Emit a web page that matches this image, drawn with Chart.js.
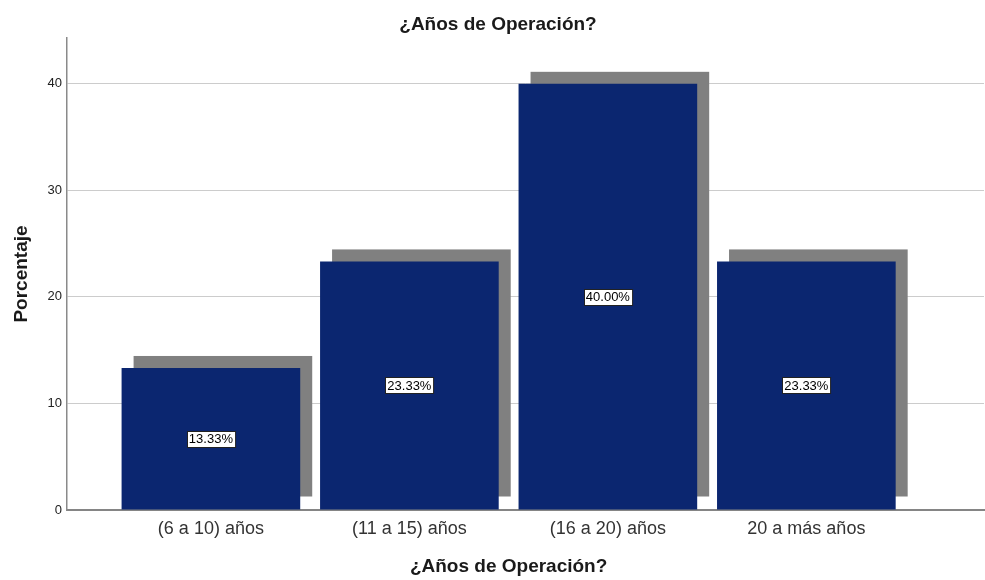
<!DOCTYPE html>
<html>
<head>
<meta charset="utf-8">
<script src="https://cdn.jsdelivr.net/npm/chart.js@4.4.1/dist/chart.umd.min.js"></script>
<style>
  html, body { margin: 0; padding: 0; background: #fff; }
  #wrap { width: 985px; height: 580px; }
</style>
</head>
<body>
<div id="wrap"><canvas id="myChart"></canvas></div>
<script>
var titulo = '¿Años de Operación?';
var categorias = ['(6 a 10) años', '(11 a 15) años', '(16 a 20) años', '20 a más años'];
var porcentajes = [13.33, 23.33, 40.00, 23.33];
var ticksY = [0, 10, 20, 30, 40];
var ejeYMax = 44.3;
var ejeXMin = -0.725;
var ejeXMax = 3.895;

var fuente = '"Liberation Sans", Arial, Helvetica, sans-serif';

// grey drop shadow behind each bar, offset up and to the right
var sombraBarras = {
  id: 'sombraBarras',
  beforeDatasetsDraw: function (chart) {
    var ctx = chart.ctx;
    var meta = chart.getDatasetMeta(0);
    ctx.save();
    ctx.fillStyle = '#808080';
    meta.data.forEach(function (bar) {
      var p = bar.getProps(['x', 'y', 'base', 'width'], true);
      ctx.fillRect(p.x - p.width / 2 + 12, p.y - 12, p.width, p.base - p.y - 1);
    });
    ctx.restore();
  }
};

// boxed percentage labels in the middle of each bar
var etiquetas = {
  id: 'etiquetas',
  afterDatasetsDraw: function (chart) {
    var ctx = chart.ctx;
    var meta = chart.getDatasetMeta(0);
    ctx.save();
    ctx.font = '13px ' + fuente;
    ctx.textAlign = 'center';
    ctx.textBaseline = 'middle';
    meta.data.forEach(function (bar, i) {
      var p = bar.getProps(['x', 'y', 'base'], true);
      var txt = porcentajes[i].toFixed(2) + '%';
      var w = ctx.measureText(txt).width + 4;
      var h = 16;
      var cy = (p.y + p.base) / 2;
      var bx = Math.round(p.x - w / 2) + 0.5;
      var by = Math.round(cy - h / 2) + 0.5;
      ctx.fillStyle = '#ffffff';
      ctx.fillRect(bx, by, w, h);
      ctx.strokeStyle = '#222';
      ctx.lineWidth = 1;
      ctx.strokeRect(bx, by, w, h);
      ctx.fillStyle = '#000';
      ctx.fillText(txt, p.x, cy + 1);
    });
    ctx.restore();
  }
};

// x axis title, centred under the bars
var tituloX = {
  id: 'tituloX',
  afterDraw: function (chart) {
    var ctx = chart.ctx;
    var sx = chart.scales.x;
    var cx = sx.getPixelForValue((categorias.length - 1) / 2);
    ctx.save();
    ctx.font = 'bold 19px ' + fuente;
    ctx.fillStyle = '#1a1a1a';
    ctx.textAlign = 'center';
    ctx.textBaseline = 'middle';
    ctx.fillText(titulo, cx, 567);
    ctx.restore();
  }
};

var ctx = document.getElementById('myChart').getContext('2d');
var config = {
  type: 'bar',
  data: {
    datasets: [{
      data: porcentajes.map(function (v, i) { return { x: i, y: v }; }),
      backgroundColor: '#0b2670',
      borderWidth: 0,
      barPercentage: 0.9,
      categoryPercentage: 1.0
    }]
  },
  options: {
    responsive: true,
    maintainAspectRatio: false,
    animation: false,
    layout: { padding: { left: 12, right: 1, top: 0, bottom: 0 } },
    plugins: {
      legend: { display: false },
      tooltip: { enabled: false },
      title: {
        display: true,
        text: titulo,
        color: '#1a1a1a',
        font: { family: fuente, size: 19, weight: 'bold', lineHeight: 1.2 },
        padding: { top: 13, bottom: 2.2 }
      }
    },
    scales: {
      x: {
        type: 'linear',
        offset: false,
        min: ejeXMin,
        max: ejeXMax,
        afterBuildTicks: function (scale) {
          scale.ticks = categorias.map(function (c, i) { return { value: i }; });
        },
        afterFit: function (scale) { scale.height = 70; },
        grid: { display: false, drawTicks: false, offset: false },
        border: { display: true, color: '#858585', width: 2 },
        ticks: {
          autoSkip: false,
          maxRotation: 0,
          padding: 8,
          color: '#333',
          font: { family: fuente, size: 18 },
          callback: function (v) { return categorias[v]; }
        }
      },
      y: {
        min: 0,
        max: ejeYMax,
        afterBuildTicks: function (scale) {
          scale.ticks = ticksY.map(function (v) { return { value: v }; });
        },
        afterFit: function (scale) { scale.width = 55; },
        grid: {
          color: function (c) { return c.tick && c.tick.value === 0 ? 'rgba(0,0,0,0)' : '#cccccc'; },
          lineWidth: 1,
          drawTicks: false
        },
        border: { display: true, color: '#8a8a8a', width: 1.5 },
        ticks: {
          padding: 5,
          color: '#222',
          font: { family: fuente, size: 13 }
        },
        title: {
          display: true,
          text: 'Porcentaje',
          color: '#1a1a1a',
          font: { family: fuente, size: 19, weight: 'bold', lineHeight: 1 },
          padding: { top: 0, bottom: 0 }
        }
      }
    }
  },
  plugins: [sombraBarras, etiquetas, tituloX]
};

var chart = new Chart(ctx, config);
</script>
</body>
</html>
